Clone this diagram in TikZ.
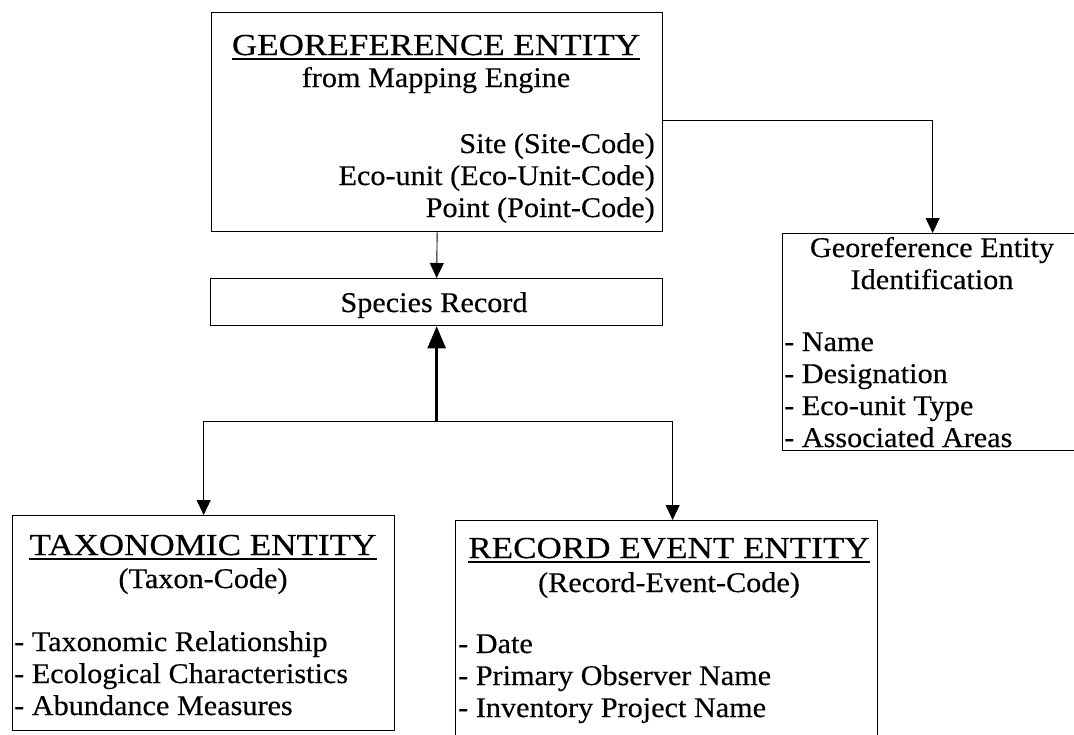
\documentclass[tikz,border=0pt]{standalone}
\usepackage{fontspec}
\setmainfont[FakeStretch=1.06, FakeBold=0.4]{Liberation Serif}
\newfontfamily\headfam[FakeStretch=1.15, FakeBold=0.4]{Liberation Serif}
\usetikzlibrary{arrows.meta}

\newcommand\bodyfnt{\fontsize{28.5}{32}\selectfont}
\newcommand\headfnt{\headfam\fontsize{30.5}{36}\selectfont}

\tikzset{
  box/.style={draw, line width=1.3pt, inner sep=0, anchor=north west},
  txt/.style={inner sep=0, font=\bodyfnt},
  head/.style={inner sep=0, anchor=base, font=\headfnt},
  link/.style={line width=0.9pt, -{Triangle[length=15pt,width=14pt]}},
  mainlink/.style={line width=2.6pt, -{Triangle[length=22pt,width=18pt]}},
  uline/.style={line width=1.8pt}
}

\begin{document}
\begin{tikzpicture}[x=1pt, y=-1pt]
\useasboundingbox (0,0) rectangle (1074,734);

% boxes
\node[box, minimum width=451pt, minimum height=219pt] (geo) at (211,12) {};
\node[box, minimum width=452pt, minimum height=47pt] (spec) at (210,278) {};
\node[box, minimum width=300pt, minimum height=217pt] (ident) at (782,233) {};
\node[box, minimum width=382pt, minimum height=215pt] (tax) at (12,515) {};
\node[box, minimum width=422pt, minimum height=240pt] (rec) at (455,520) {};

% georeference entity
\node[head] (geoH) at (436,55) {GEOREFERENCE ENTITY};
\draw[uline] ([yshift=-4pt]geoH.base west) -- ([yshift=-4pt]geoH.base east);
\node[txt, anchor=base] (geoS) at (436,87) {from Mapping Engine};
\node[txt, anchor=base east] (geoA) at (655,153) {Site (Site-Code)};
\node[txt, anchor=base east] (geoB) at (655,185) {Eco-unit (Eco-Unit-Code)};
\node[txt, anchor=base east] (geoC) at (655,217) {Point (Point-Code)};

% species record
\node[txt, anchor=base] (specT) at (434,312) {Species Record};

% georeference entity identification
\node[txt, anchor=base] (idA) at (932,257) {Georeference Entity};
\node[txt, anchor=base] (idB) at (932,289) {Identification};
\node[txt, anchor=base west] (id1) at (784,351) {- Name};
\node[txt, anchor=base west] (id2) at (784,383) {- Designation};
\node[txt, anchor=base west] (id3) at (784,415) {- Eco-unit Type};
\node[txt, anchor=base west] (id4) at (784,447) {- Associated Areas};

% taxonomic entity
\node[head] (taxH) at (203,555) {TAXONOMIC ENTITY};
\draw[uline] ([yshift=-4pt]taxH.base west) -- ([yshift=-4pt]taxH.base east);
\node[txt, anchor=base] (taxS) at (203,588) {(Taxon-Code)};
\node[txt, anchor=base west] (tax1) at (14,651) {- Taxonomic Relationship};
\node[txt, anchor=base west] (tax2) at (14,683) {- Ecological Characteristics};
\node[txt, anchor=base west] (tax3) at (14,715) {- Abundance Measures};

% record event entity
\node[head] (recH) at (669,558) {RECORD EVENT ENTITY};
\draw[uline] ([yshift=-4pt]recH.base west) -- ([yshift=-4pt]recH.base east);
\node[txt, anchor=base] (recS) at (669,592) {(Record-Event-Code)};
\node[txt, anchor=base west] (rec1) at (458,653) {- Date};
\node[txt, anchor=base west] (rec2) at (458,685) {- Primary Observer Name};
\node[txt, anchor=base west] (rec3) at (458,717) {- Inventory Project Name};

% connectors
\coordinate (jn) at (spec.south |- 0,421);
\draw[link] (geo.south) -- (spec.north);
\draw[link] ([yshift=1.5pt]geo.east) -| (ident.north);
\draw[mainlink] (jn) -- (spec.south);
\draw[link] (jn) -| (tax.north);
\draw[link] (jn) -| ([xshift=6pt]rec.north);
\end{tikzpicture}
\end{document}
